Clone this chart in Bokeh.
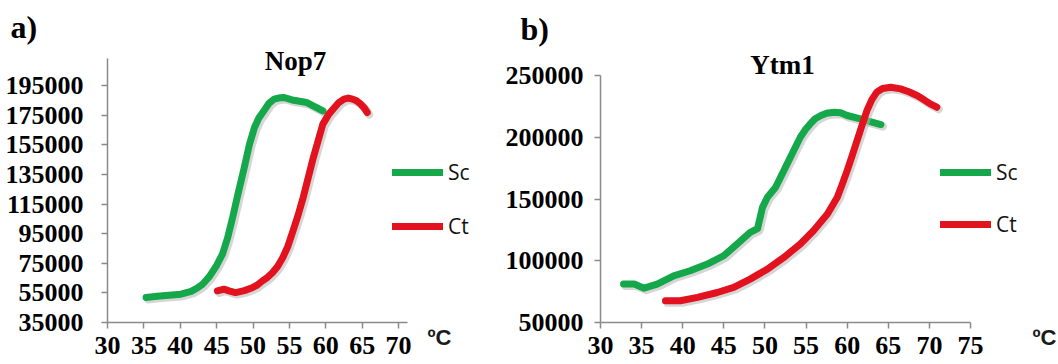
import numpy as np
from bokeh.plotting import figure
from bokeh.layouts import row
from bokeh.models import (FixedTicker, NumeralTickFormatter, Label, Legend, LegendItem, Range1d)
from bokeh.embed import file_html
from bokeh.resources import INLINE

# ---------------- data ----------------
nop7_sc_t = [35.3, 36.5, 38.0, 40.1, 41.5, 42.4, 43.0, 44.0, 45.0, 45.8, 46.5, 47.2, 47.9, 48.8, 49.5, 50.2, 50.8,
             51.5, 52.2, 52.9, 53.5, 54.2, 55.6, 57.4, 59.6]
nop7_sc_v = [51900, 52500, 53200, 54100, 56000, 58500, 60500, 66000, 73500, 81100, 92000, 105900, 121000, 139600,
             155000, 166600, 173000, 177900, 183000, 185800, 186500, 186900, 185000, 183500, 177900]
nop7_ct_t = [45.1, 46.0, 46.7, 47.6, 48.8, 49.9, 50.5, 51.3, 52.0, 52.7, 53.4, 54.1, 54.8, 55.5, 56.2, 56.9, 57.6,
             58.3, 59.6, 60.4, 61.2, 61.8, 62.5, 63.1, 63.7, 64.3, 64.8, 65.3, 65.7]
nop7_ct_v = [56400, 57500, 56400, 55200, 56500, 58500, 60000, 63100, 65500, 68800, 73000, 78900, 86500, 96900,
             107500, 119400, 133000, 146400, 168900, 175500, 180100, 183500, 185800, 186500, 185800, 184500,
             182400, 179800, 176800]

ytm1_sc_t = [32.8, 34.1, 35.3, 36.9, 38.9, 40.9, 43.0, 45.0, 46.6, 48.2, 49.1, 49.7, 50.3, 51.3, 52.3, 53.3, 54.3,
             54.9, 55.5, 56.1, 56.8, 57.5, 58.4, 59.2, 60.0, 61.6, 64.1]
ytm1_sc_v = [81100, 81100, 77800, 81100, 87800, 91900, 97300, 104100, 113500, 123000, 126000, 143200, 151400,
             159500, 173000, 186500, 200000, 206000, 210800, 215000, 217600, 219500, 220300, 219800, 217600,
             214900, 210300]
ytm1_ct_t = [37.9, 39.7, 41.8, 44.2, 46.2, 48.2, 50.3, 52.3, 54.3, 55.9, 57.6, 58.8, 59.4, 60.0, 60.6, 61.2, 61.8,
             62.4, 63.0, 63.6, 64.3, 65.3, 66.5, 67.5, 68.5, 69.3, 70.1, 70.9]
ytm1_ct_v = [67600, 67600, 70300, 74300, 78400, 85100, 93200, 102700, 113500, 124300, 137800, 151400, 162000,
             173000, 185000, 197300, 209500, 221600, 230500, 236500, 239500, 240500, 239200, 236800, 233800,
             230500, 227000, 224300]

nop7_xticks = [30, 35, 40, 45, 50, 55, 60, 65, 70]
nop7_yticks = [35000, 55000, 75000, 95000, 115000, 135000, 155000, 175000, 195000]
nop7_xaxis_end = 71.24
nop7_yaxis_end = 213500
ytm1_xticks = [30, 35, 40, 45, 50, 55, 60, 65, 70, 75]
ytm1_yticks = [50000, 100000, 150000, 200000, 250000]

series_names = ["Sc", "Ct"]
GREEN = "#14a84a"
RED = "#e2121f"
SERIF = "Liberation Serif"
SANS = "Open Sans"
AXIS_GREY = "#8a8a8a"
H = 364


def make_panel(W, xticks, yticks, xbounds, ybounds, xpx, ypx, title, letter, sc, ct,
               leg_top, leg_left, leg_spacing, title_xy, letter_xy, unit_xy, ystandoff):
    # xpx: pixel positions (from left) of first and last x tick; ypx: pixel (from top) of first/last y tick
    kx = (xticks[-1] - xticks[0]) / (xpx[1] - xpx[0])
    ky = (yticks[-1] - yticks[0]) / (ypx[0] - ypx[1])
    x0 = xticks[0] - xpx[0] * kx
    y0 = yticks[0] - (H - ypx[0]) * ky
    p = figure(width=W, height=H, output_backend="svg", toolbar_location=None, title=None,
               x_range=Range1d(x0, x0 + W * kx), y_range=Range1d(y0, y0 + H * ky),
               min_border=0)
    p.min_border_left = p.min_border_right = p.min_border_top = p.min_border_bottom = 0
    p.outline_line_color = None
    p.xgrid.visible = False
    p.ygrid.visible = False
    p.background_fill_color = "white"
    p.border_fill_color = "white"

    xa, ya = p.xaxis[0], p.yaxis[0]
    for ax in (xa, ya):
        ax.axis_line_color = AXIS_GREY
        ax.axis_line_width = 1.5
        ax.major_tick_line_color = AXIS_GREY
        ax.major_tick_line_width = 1.5
        ax.major_tick_out = 6
        ax.major_tick_in = 0
        ax.minor_tick_line_color = None
        ax.major_label_text_font = SERIF
        ax.major_label_text_font_style = "bold"
        ax.major_label_text_color = "black"
        ax.major_label_text_font_size = "26px"
    xa.ticker = FixedTicker(ticks=xticks)
    ya.ticker = FixedTicker(ticks=yticks)
    ya.formatter = NumeralTickFormatter(format="0")
    xa.fixed_location = yticks[0]
    ya.fixed_location = xticks[0]
    xa.bounds = xbounds
    ya.bounds = ybounds
    xa.major_label_standoff = 8
    ya.major_label_standoff = ystandoff

    dx = 2.0 * kx
    dy = 2.0 * ky
    renderers = []
    for (t, v), col in zip((sc, ct), (GREEN, RED)):
        t = np.asarray(t, dtype=float)
        v = np.asarray(v, dtype=float)
        p.line(t + dx, v - dy, line_width=8, color="#b4b4b4", alpha=0.55, line_cap="round", line_join="round")
        r = p.line(t, v, line_width=7, color=col, line_cap="round", line_join="round")
        renderers.append(r)

    gh = 24
    leg_bottom = leg_top + gh * 2 + leg_spacing
    items = [LegendItem(label=n, renderers=[r]) for n, r in zip(series_names, renderers)]
    leg = Legend(items=items, location=(leg_left, H - leg_bottom), orientation="vertical",
                 glyph_width=51, glyph_height=gh, label_height=gh, label_standoff=5,
                 spacing=leg_spacing, padding=0, margin=0,
                 border_line_color=None, background_fill_alpha=0,
                 label_text_font=SANS, label_text_font_size="21px", label_text_color="#111111")
    p.add_layout(leg, "center")

    p.add_layout(Label(x=title_xy[0], y=H - title_xy[1], x_units="screen", y_units="screen", text=title,
                       text_font=SERIF, text_font_style="bold", text_font_size="27px",
                       text_align="center", text_baseline="alphabetic", text_color="black"))
    p.add_layout(Label(x=letter_xy[0], y=H - letter_xy[1], x_units="screen", y_units="screen", text=letter,
                       text_font=SERIF, text_font_style="bold", text_font_size="32px",
                       text_align="left", text_baseline="alphabetic", text_color="black"))
    p.add_layout(Label(x=unit_xy[0], y=H - unit_xy[1], x_units="screen", y_units="screen", text="ºC",
                       text_font="Liberation Sans", text_font_style="bold", text_font_size="22px",
                       text_align="left", text_baseline="alphabetic", text_color="#1a1a1a"))
    return p


p1 = make_panel(505, nop7_xticks, nop7_yticks, (30, nop7_xaxis_end), (35000, nop7_yaxis_end),
                (107, 398), (322, 85), "Nop7", "a)", (nop7_sc_t, nop7_sc_v), (nop7_ct_t, nop7_ct_v),
                166, 392, 26, (295, 60), (10, 26), (427, 337), 18)
p2 = make_panel(553, ytm1_xticks, ytm1_yticks, (30, 75), (50000, 250000),
                (95, 465), (322, 75), "Ytm1", "b)", (ytm1_sc_t, ytm1_sc_v), (ytm1_ct_t, ytm1_ct_v),
                166, 435, 24, (277, 64), (15, 28), (527, 337), 11)

layout = row(p1, p2, spacing=0)
open("out.html", "w").write(file_html(layout, INLINE))
